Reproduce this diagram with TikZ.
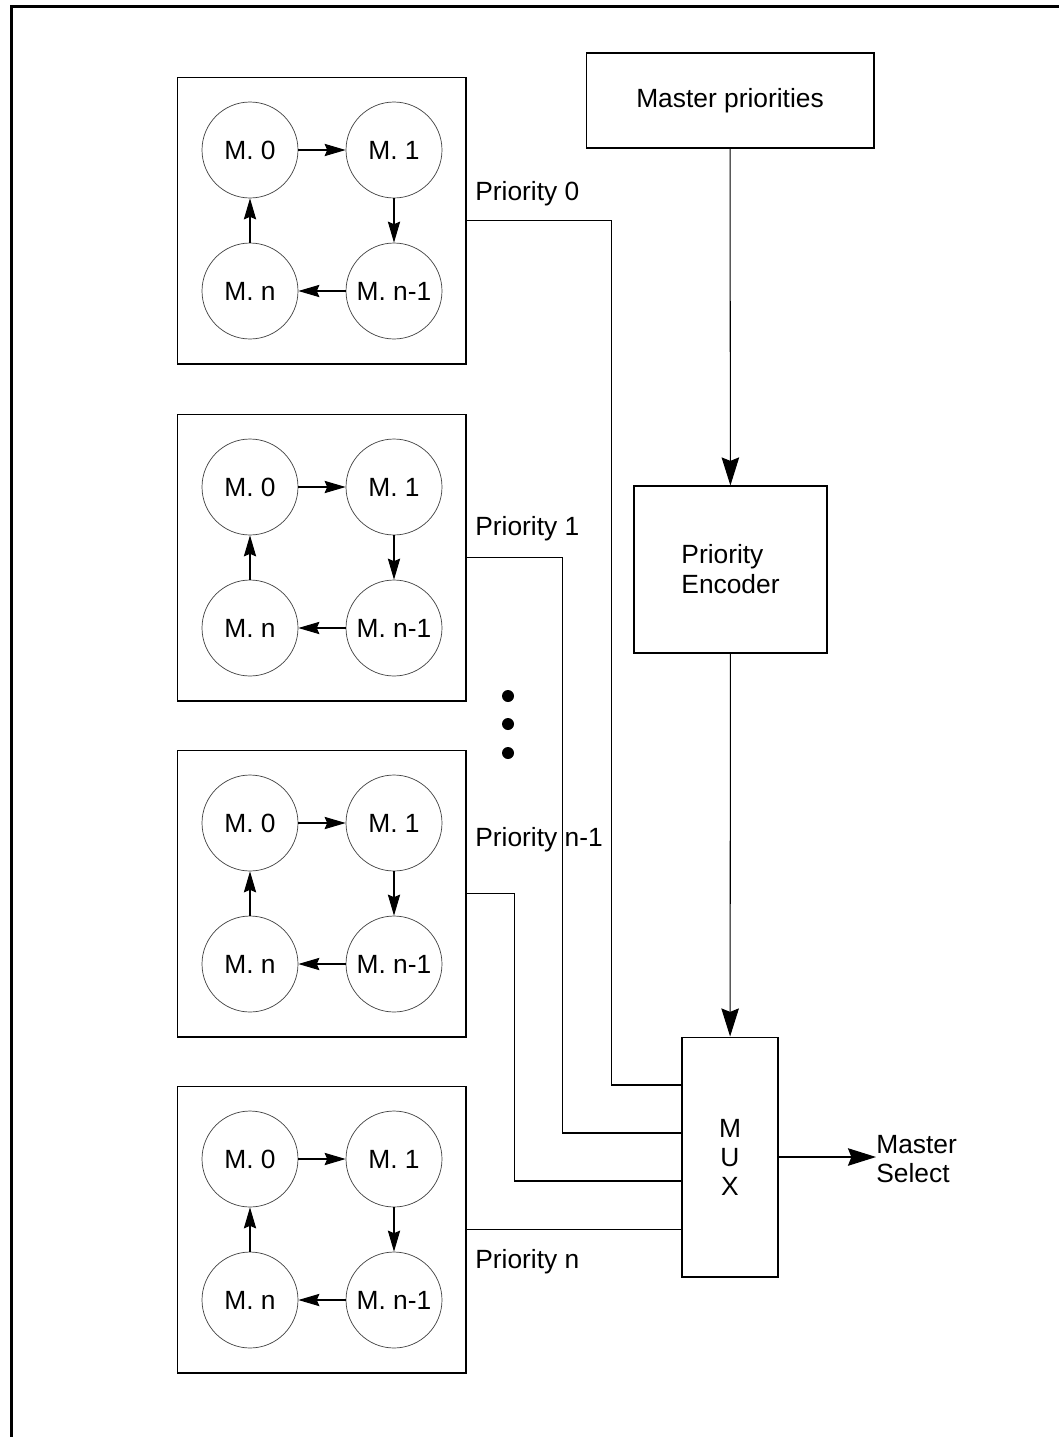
\documentclass[tikz,border=0pt]{standalone}
\usepackage{fontspec}
\setmainfont{Liberation Sans}
\usetikzlibrary{arrows.meta}

\tikzset{
  mst/.style={circle, draw=black!75, line width=0.4pt, minimum size=1.92cm, inner sep=0pt},
  grp/.style={draw, line width=0.6pt, minimum width=5.78cm, minimum height=5.74cm},
  blk/.style={draw, line width=0.6pt, inner sep=0pt},
  sarr/.style={-{Stealth[length=12pt,width=7pt,inset=1.5pt]}, line width=0.6pt},
  barr/.style={-{Stealth[length=16pt,width=10pt,inset=2pt]}, line width=0.6pt},
  lbl/.style={anchor=west, inner sep=0pt}
}

\begin{document}
\begin{tikzpicture}[x=0.02cm, y=-0.02cm, font=\fontsize{15}{17}\selectfont]
\useasboundingbox (0,0) rectangle (1059,1437);
\draw[line width=1.7pt, line join=miter] (11.5,1437) -- (11.5,6.5) -- (1059,6.5);

% priority group 0
\node[grp] (g1) at (321.5,220.5) {};
\node[mst] (a0) at (250,150) {M. 0};
\node[mst] (a1) at (394,150) {M. 1};
\node[mst] (an1) at (394,291) {M. n-1};
\node[mst] (an) at (250,291) {M. n};
\draw[sarr] (a0) -- (a1);
\draw[sarr] (a1) -- (an1);
\draw[sarr] (an1) -- (an);
\draw[sarr] (an) -- (a0);

% priority group 1
\node[grp] (g2) at (321.5,557.5) {};
\node[mst] (b0) at (250,487) {M. 0};
\node[mst] (b1) at (394,487) {M. 1};
\node[mst] (bn1) at (394,628) {M. n-1};
\node[mst] (bn) at (250,628) {M. n};
\draw[sarr] (b0) -- (b1);
\draw[sarr] (b1) -- (bn1);
\draw[sarr] (bn1) -- (bn);
\draw[sarr] (bn) -- (b0);

% priority group n-1
\node[grp] (g3) at (321.5,893.5) {};
\node[mst] (c0) at (250,823) {M. 0};
\node[mst] (c1) at (394,823) {M. 1};
\node[mst] (cn1) at (394,964) {M. n-1};
\node[mst] (cn) at (250,964) {M. n};
\draw[sarr] (c0) -- (c1);
\draw[sarr] (c1) -- (cn1);
\draw[sarr] (cn1) -- (cn);
\draw[sarr] (cn) -- (c0);

% priority group n
\node[grp] (g4) at (321.5,1229.5) {};
\node[mst] (d0) at (250,1159) {M. 0};
\node[mst] (d1) at (394,1159) {M. 1};
\node[mst] (dn1) at (394,1300) {M. n-1};
\node[mst] (dn) at (250,1300) {M. n};
\draw[sarr] (d0) -- (d1);
\draw[sarr] (d1) -- (dn1);
\draw[sarr] (dn1) -- (dn);
\draw[sarr] (dn) -- (d0);

\fill (508,696) circle (0.12cm);
\fill (508,724) circle (0.12cm);
\fill (508,753) circle (0.12cm);

% right hand blocks
\node[blk, minimum width=5.76cm, minimum height=1.9cm] (mp) at (730,100.5) {Master priorities};
\node[blk, minimum width=3.86cm, minimum height=3.34cm, align=left] (enc) at (730.5,569.5) {Priority\\Encoder};
\node[blk, minimum width=1.92cm, minimum height=4.8cm, align=center, font=\fontsize{15}{16.5}\selectfont] (mux) at (730,1157) {M\\U\\X};
\node[lbl, align=left] (sel) at (876,1159) {Master\\Select};

\draw[barr] (mp) -- (enc);
\draw[barr] (enc) -- (mux);
\draw[barr] (mux.east) -- (mux.east -| sel.west);

% priority lines
\draw[line width=0.6pt] (g1.east) -- ++(145,0) |- (mux.west |- 0,1085);
\draw[line width=0.6pt] (g2.east) -- ++(96,0) |- (mux.west |- 0,1133);
\draw[line width=0.6pt] (g3.east) -- ++(48,0) |- (mux.west |- 0,1181);
\draw[line width=0.6pt] (g4.east) -- (mux.west |- g4.east);

\node[lbl] (p0) at (475,194) {Priority 0};
\node[lbl] (p1) at (475,529) {Priority 1};
\node[lbl] (pn1) at (475,840) {Priority n-1};
\node[lbl] (pn) at (475,1262) {Priority n};
\end{tikzpicture}
\end{document}
